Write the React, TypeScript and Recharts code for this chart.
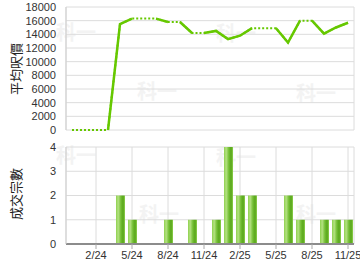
import React from 'react';
import { LineChart, Line, BarChart, Bar, XAxis, YAxis, CartesianGrid } from 'recharts';

const months = ['12/23','1/24','2/24','3/24','4/24','5/24','6/24','7/24','8/24','9/24','10/24','11/24','12/24','1/25','2/25','3/25','4/25','5/25','6/25','7/25','8/25','9/25','10/25','11/25'];
const prices = [0,0,0,0,15500,16300,16300,16300,15800,15800,14200,14200,14500,13300,13800,14900,14900,14900,12800,16000,16000,14100,15000,15700];
const counts = [0,0,0,0,2,1,0,0,1,0,1,0,1,4,2,2,0,0,2,1,0,1,1,1];
const xTicks = [2,5,8,11,14,17,20,23];
const priceTicks = [0,2000,4000,6000,8000,10000,12000,14000,16000,18000];
const countTicks = [0,1,2,3,4];

// build solid runs (segment i-1 -> i solid when month i has transactions)
const solidA: (number | null)[] = months.map(() => null);
const solidB: (number | null)[] = months.map(() => null);
{
  let runIdx = 0;
  let i = 0;
  while (i < months.length) {
    if (counts[i] > 0) {
      let j = i;
      while (j + 1 < months.length && counts[j + 1] > 0) j++;
      const target = runIdx % 2 === 0 ? solidA : solidB;
      for (let k = Math.max(0, i - 1); k <= j; k++) target[k] = prices[k];
      runIdx++;
      i = j + 1;
    } else i++;
  }
}

const lineData = months.map((m, i) => ({ x: i, m, price: prices[i], a: solidA[i], b: solidB[i] }));
const barData = months.map((m, i) => ({ x: i, m, count: counts[i] }));

const fmt = (v: number) => months[v] ?? '';
const tickStyle = { fontSize: 11, fill: '#333', fontFamily: 'Liberation Sans, Arial, sans-serif' };
const green = '#66c800';

const marks = [
  [76, 40], [157, 99], [236, 41], [316, 101],
  [76, 163], [159, 222], [236, 165], [316, 222],
];

export default function App() {
  return (
    <div style={{ position: 'absolute', left: 0, top: 0, width: 360, height: 270, background: '#fff' }}>
      <svg width={360} height={270} style={{ position: 'absolute', left: 0, top: 0 }}>
        {marks.map(([x, y], i) => (
          <text key={i} x={x} y={y} textAnchor="middle" fontSize={20} fontWeight="bold" fill="#f3f3f3" fontFamily="Noto Sans CJK TC">科一</text>
        ))}
      </svg>
      <div style={{ position: 'absolute', left: 0, top: 0 }}>
        <LineChart width={360} height={140} data={lineData} margin={{ top: 7, right: 6, left: 0, bottom: 10 }}>
          <CartesianGrid stroke="#dcdcdc" />
          <XAxis type="number" dataKey="x" domain={[-0.5, 23.5]} ticks={xTicks} tick={false} tickLine={false} height={0} axisLine={{ stroke: '#8c8c8c', strokeWidth: 2 }} allowDataOverflow />
          <YAxis domain={[0, 18000]} ticks={priceTicks} interval={0} width={66} tickLine={false} tickMargin={4} axisLine={{ stroke: '#cfcfcf' }} tick={tickStyle} />
          <Line dataKey="price" stroke={green} strokeWidth={2} strokeDasharray="2 2" dot={false} activeDot={false} isAnimationActive={false} type="linear" />
          <Line dataKey="a" stroke={green} strokeWidth={2.5} dot={false} activeDot={false} isAnimationActive={false} type="linear" connectNulls={false} />
          <Line dataKey="b" stroke={green} strokeWidth={2.5} dot={false} activeDot={false} isAnimationActive={false} type="linear" connectNulls={false} />
        </LineChart>
      </div>
      <div style={{ position: 'absolute', left: 0, top: 140 }}>
        <BarChart width={360} height={130} data={barData} margin={{ top: 7, right: 6, left: 0, bottom: 0 }}>
          <defs>
            <linearGradient id="barGrad" x1="0" y1="0" x2="1" y2="0">
              <stop offset="0" stopColor="#8fd14f" />
              <stop offset="0.25" stopColor="#b3e180" />
              <stop offset="0.55" stopColor="#72bd33" />
              <stop offset="0.8" stopColor="#58a61a" />
              <stop offset="1" stopColor="#8fd14f" />
            </linearGradient>
          </defs>
          <CartesianGrid stroke="#dcdcdc" />
          <XAxis type="number" dataKey="x" domain={[-0.5, 23.5]} ticks={xTicks} interval={0} tickFormatter={fmt} height={26} tickSize={5} tickMargin={2} tickLine={{ stroke: '#aaa' }} axisLine={{ stroke: '#8c8c8c', strokeWidth: 2 }} tick={tickStyle} allowDataOverflow />
          <YAxis domain={[0, 4]} ticks={countTicks} interval={0} width={66} tickLine={false} tickMargin={4} axisLine={{ stroke: '#cfcfcf' }} tick={tickStyle} />
          <Bar dataKey="count" fill="url(#barGrad)" barSize={9} isAnimationActive={false} />
        </BarChart>
      </div>
      <svg width={360} height={270} style={{ position: 'absolute', left: 0, top: 0, pointerEvents: 'none' }}>
        <text x={15} y={69} transform="rotate(-90 15 69)" textAnchor="middle" dominantBaseline="central" fontSize={13} fill="#222" fontFamily="Noto Sans CJK TC">平均呎價</text>
        <text x={15} y={194} transform="rotate(-90 15 194)" textAnchor="middle" dominantBaseline="central" fontSize={13} fill="#222" fontFamily="Noto Sans CJK TC">成交宗數</text>
      </svg>
    </div>
  );
}
